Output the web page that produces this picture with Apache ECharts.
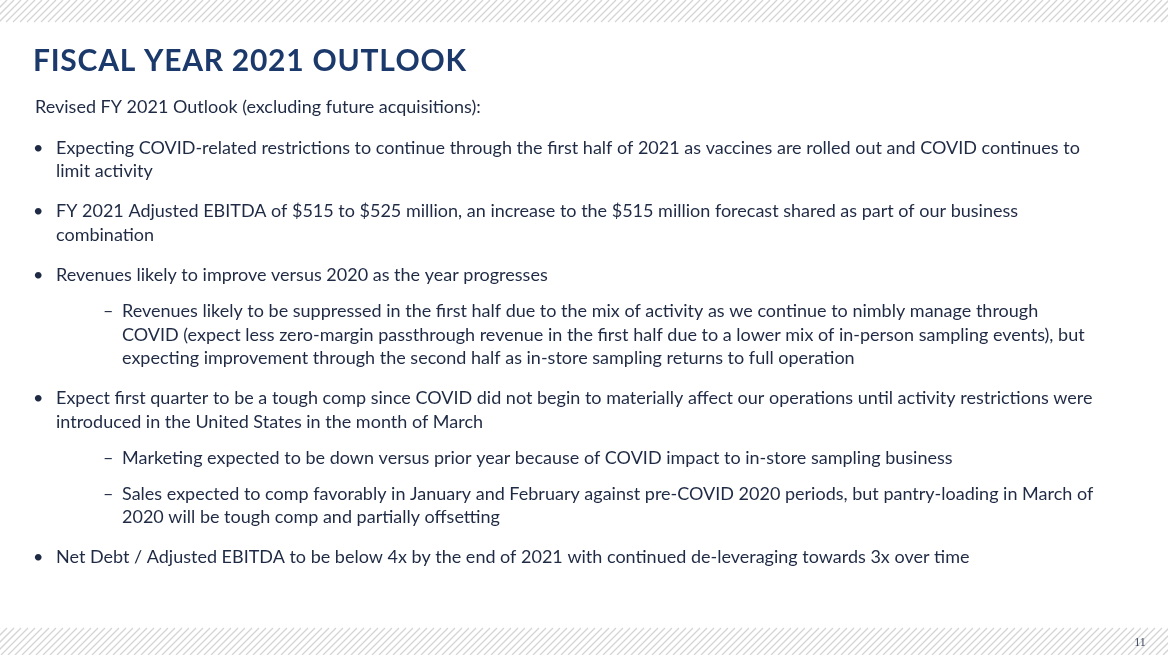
<!DOCTYPE html>
<html>
<head>
<meta charset="utf-8">
<script src="https://cdn.jsdelivr.net/npm/echarts@6/dist/echarts.min.js"></script>
<style>
  html, body { margin: 0; padding: 0; background: #fff; }
  #main { width: 1168px; height: 655px; }
</style>
</head>
<body>
<div id="main"></div>
<script>
// slide texts
const titleText = 'FISCAL YEAR 2021 OUTLOOK';
const introText = 'Revised FY 2021 Outlook (excluding future acquisitions):';
const bulletLevels = [1, 1, 1, 2, 1, 2, 2, 1];
const bulletLines = [
    ['Expecting COVID-related restrictions to continue through the first half of 2021 as vaccines are rolled out and COVID continues to',
     'limit activity'],
    ['FY 2021 Adjusted EBITDA of $515 to $525 million, an increase to the $515 million forecast shared as part of our business',
     'combination'],
    ['Revenues likely to improve versus 2020 as the year progresses'],
    ['Revenues likely to be suppressed in the first half due to the mix of activity as we continue to nimbly manage through',
     'COVID (expect less zero-margin passthrough revenue in the first half due to a lower mix of in-person sampling events), but',
     'expecting improvement through the second half as in-store sampling returns to full operation'],
    ['Expect first quarter to be a tough comp since COVID did not begin to materially affect our operations until activity restrictions were',
     'introduced in the United States in the month of March'],
    ['Marketing expected to be down versus prior year because of COVID impact to in-store sampling business'],
    ['Sales expected to comp favorably in January and February against pre-COVID 2020 periods, but pantry-loading in March of',
     '2020 will be tough comp and partially offsetting'],
    ['Net Debt / Adjusted EBITDA to be below 4x by the end of 2021 with continued de-leveraging towards 3x over time']
];
const pageNumber = '11';

const bodyFont = '18px Lato, "Open Sans", sans-serif';
const bodyColor = '#1f2a44';
const titleColor = '#1b3a6b';

function buildGraphic() {
    const els = [];

    // hatched bands top and bottom
    const hatch = (y0, y1) => {
        const h = y1 - y0;
        for (let x = -h; x < 1168 + h; x += 7) {
            els.push({
                type: 'line', silent: true,
                shape: { x1: x, y1: y1, x2: x + h, y2: y0 },
                style: { stroke: '#d4d4d4', lineWidth: 1.3 }
            });
        }
    };
    hatch(0, 22);
    hatch(628, 655);

    // title, letters spread to fill its width
    const ctx = document.createElement('canvas').getContext('2d');
    const titleFont = 'bold 30px Lato, sans-serif';
    ctx.font = titleFont;
    const chars = Array.from(titleText);
    const widths = chars.map(ch => ctx.measureText(ch).width);
    const total = widths.reduce((a, b) => a + b, 0);
    const gap = Math.max(0, (433 - total) / (chars.length - 1));
    let tx = 33;
    chars.forEach((ch, i) => {
        els.push({
            type: 'text', x: tx, y: 61, silent: true,
            style: { text: ch, font: titleFont, fill: titleColor, verticalAlign: 'middle' }
        });
        tx += widths[i] + gap;
    });

    els.push({
        type: 'text', x: 35, y: 107, silent: true,
        style: { text: introText, font: bodyFont, fill: bodyColor, verticalAlign: 'middle' }
    });

    // bullets
    let y = 148;
    bulletLines.forEach((lines, i) => {
        const lvl = bulletLevels[i];
        if (i > 0) y += (lvl === 1 ? 40 : 36) - 23.6;
        const markX = lvl === 1 ? 33 : 103;
        const textX = lvl === 1 ? 56 : 122;
        els.push({
            type: 'text', x: markX, y: y, silent: true,
            style: { text: lvl === 1 ? '•' : '–', font: bodyFont, fill: bodyColor, verticalAlign: 'middle' }
        });
        lines.forEach((ln, j) => {
            if (j > 0) y += 23.6;
            els.push({
                type: 'text', x: textX, y: y, silent: true,
                style: { text: ln, font: bodyFont, fill: bodyColor, verticalAlign: 'middle' }
            });
        });
        y += 23.6;
    });

    els.push({
        type: 'text', x: 1140, y: 643, silent: true,
        style: { text: pageNumber, font: '12px "Liberation Serif", serif', fill: '#3b4660', align: 'center', verticalAlign: 'middle' }
    });
    return els;
}

const chart = echarts.init(document.getElementById('main'), null, { renderer: 'canvas' });
chart.setOption({
    backgroundColor: '#ffffff',
    animation: false,
    graphic: { elements: buildGraphic() }
});
window.addEventListener('resize', chart.resize);
</script>
</body>
</html>
